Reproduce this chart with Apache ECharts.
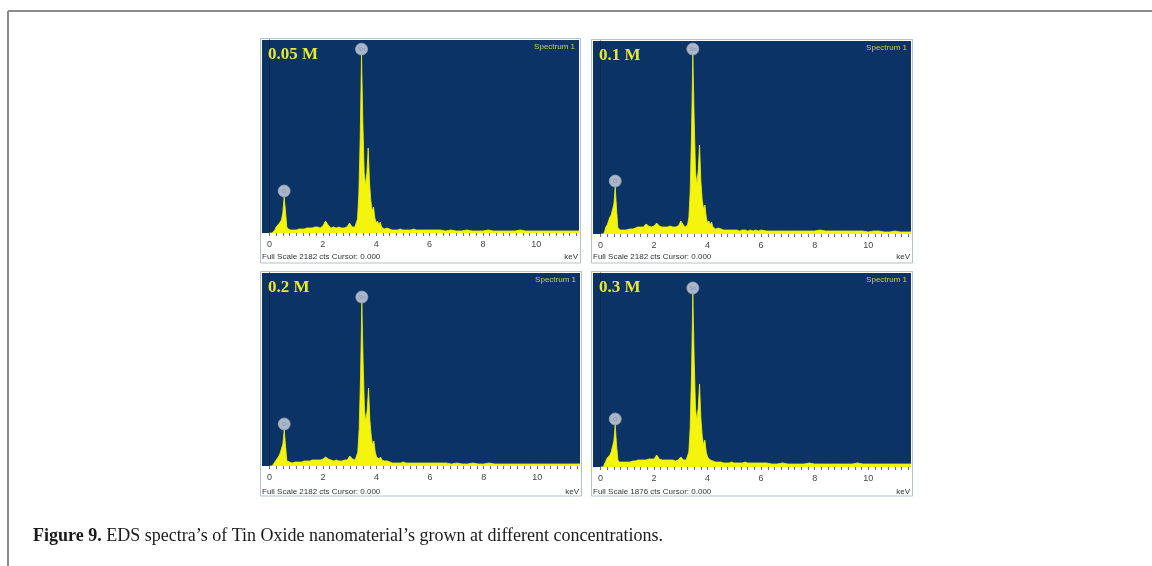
<!DOCTYPE html>
<html>
<head>
<meta charset="utf-8">
<title>EDS spectra of tin oxide</title>
<script src="https://cdn.jsdelivr.net/npm/echarts@6/dist/echarts.min.js"></script>
<style>
  html, body { margin: 0; padding: 0; background: #ffffff; }
  #chart { width: 1152px; height: 566px; }
</style>
</head>
<body>
<div id="chart"></div>
<script>
// Energy channels (keV) shared by all four spectra
const energy = [
  0.00,0.05,0.10,0.15,0.20,0.25,0.30,0.35,0.40,0.45,0.50,0.55,0.60,0.65,0.70,0.75,0.80,0.85,0.90,0.95,1.00,
  1.1,1.2,1.3,1.4,1.5,1.6,1.7,1.8,1.9,2.0,2.1,2.2,2.3,2.4,2.5,2.6,2.7,2.8,2.9,
  2.95,3.00,3.05,3.10,3.15,3.20,3.25,3.30,3.35,3.40,3.45,3.50,3.55,3.60,3.65,3.70,3.75,3.80,3.85,3.90,3.95,
  4.00,4.05,4.10,4.15,4.20,4.25,4.30,4.35,4.40,4.45,4.50,4.55,4.60,
  4.7,4.8,4.9,5.0,5.1,5.2,5.3,5.4,5.5,5.6,5.7,5.8,5.9,6.0,
  6.2,6.4,6.6,6.8,7.0,7.2,7.4,7.6,7.8,8.0,8.2,8.4,8.6,8.8,9.0,9.2,9.4,9.6,9.8,10.0,10.2,10.4,10.6,10.8,11.0,11.2,11.4,11.6
];

// Counts per channel for each precursor concentration
const counts005M = [
  0,0,0,0,34,68,90,102,113,147,226,407,249,68,45,34,34,34,34,45,34,
  45,45,45,57,57,57,68,68,57,79,136,90,57,68,57,68,57,57,68,
  79,113,124,68,57,68,79,158,452,1074,2011,1243,678,542,678,961,565,362,249,294,170,
  113,136,90,124,68,57,45,45,57,68,45,34,34,
  34,34,45,34,34,34,34,45,34,34,34,34,34,34,
  34,34,23,34,23,23,34,23,23,23,34,23,23,23,23,23,34,23,23,23,23,23,23,23,23,23,23,23
];
const counts01M = [
  0,0,0,23,79,102,147,192,215,226,339,531,283,68,57,45,45,45,45,45,57,
  57,57,68,79,79,79,113,90,79,90,124,90,79,79,79,90,79,79,90,
  113,147,158,102,79,90,102,181,475,1130,2023,1300,701,565,712,1006,599,384,283,328,192,
  124,147,102,136,79,68,57,57,68,68,57,45,45,
  45,45,45,45,45,34,45,45,34,45,34,45,34,45,
  34,34,34,34,34,34,34,34,34,34,45,34,34,34,34,34,34,34,34,23,34,34,23,23,34,23,23,23
];
const counts02M = [
  0,0,0,11,45,68,90,113,147,158,249,407,226,57,45,45,34,34,45,45,45,
  45,45,57,57,57,68,68,68,68,79,102,79,68,57,68,57,57,68,68,
  90,113,124,79,68,68,90,158,418,994,1842,1153,622,509,633,881,520,339,237,283,158,
  102,124,79,102,68,57,57,45,57,68,45,34,34,
  34,34,34,45,34,34,34,34,34,34,34,34,34,34,
  34,34,34,23,34,23,23,34,23,23,34,23,23,23,23,23,23,23,23,23,23,23,23,23,23,23,23,23
];
const counts03M = [
  0,0,0,19,58,87,97,116,145,164,251,406,213,68,48,48,48,48,48,48,48,
  48,58,58,68,68,68,68,77,77,77,116,77,68,68,68,68,68,58,68,
  87,97,106,68,58,68,77,145,377,899,1673,1044,561,454,571,803,474,300,213,261,145,
  97,116,68,87,58,48,48,48,48,58,48,39,39,
  39,39,48,39,39,39,39,48,39,39,39,39,39,39,
  39,29,29,39,29,29,29,29,39,29,29,29,29,29,29,29,29,39,29,29,29,29,29,29,29,29,29,29
];

const spectra = [counts005M, counts01M, counts02M, counts03M];
const panelTitles = ['0.05 M', '0.1 M', '0.2 M', '0.3 M'];
const fullScaleCts = [2182, 2182, 2182, 1876];

// Identified emission lines
const lineNames = ['O', 'Sn'];
const lineEnergies = [0.55, 3.45];

const energyTickLabels = [0, 2, 4, 6, 8, 10];

// Panel placement in the 1152x566 canvas
const panels = [
  { left: 262, top: 40,  width: 317, height: 193, boxBottom: 263, footY: 257 },
  { left: 593, top: 41,  width: 318, height: 193, boxBottom: 263, footY: 257 },
  { left: 262, top: 273, width: 318, height: 193, boxBottom: 496, footY: 492 },
  { left: 593, top: 273, width: 318, height: 194, boxBottom: 496, footY: 492 }
];

const PLOT_BG = '#0b3366';
const SPECTRUM = '#f4f40c';
const X_MIN = -0.28, X_MAX = 11.6;

// minor tick marks every 0.25 keV along the energy scale
const minorTicks = [];
for (let k = 0; k <= 46; k++) minorTicks.push(+(k * 0.25).toFixed(2));

const grids = [], xAxes = [], yAxes = [], series = [], graphics = [];

panels.forEach((p, i) => {
  grids.push({
    left: p.left, top: p.top, width: p.width, height: p.height,
    show: true, backgroundColor: PLOT_BG, borderWidth: 0, containLabel: false
  });
  xAxes.push({
    type: 'value', gridIndex: i, min: X_MIN, max: X_MAX,
    axisLine: { show: false },
    splitLine: { show: false },
    axisTick: { show: true, customValues: minorTicks, length: 3, inside: false,
                lineStyle: { color: '#6a6e74', width: 1 } },
    axisLabel: { show: true, customValues: energyTickLabels, fontSize: 9, margin: 7,
                 color: '#444', fontFamily: 'Liberation Sans' }
  });
  yAxes.push({
    type: 'value', gridIndex: i, min: 0, max: fullScaleCts[i],
    axisLine: { show: true, onZero: true, lineStyle: { color: '#07284f', width: 1 } },
    axisTick: { show: false }, axisLabel: { show: false }, splitLine: { show: false }
  });

  const counts = spectra[i];
  series.push({
    type: 'line', xAxisIndex: i, yAxisIndex: i,
    data: energy.map((e, k) => [e, counts[k]]),
    showSymbol: false, smooth: false, silent: true,
    lineStyle: { color: SPECTRUM, width: 0.8 },
    areaStyle: { color: SPECTRUM, opacity: 1 },
    z: 2
  });

  // line markers sit on top of their peaks
  series.push({
    type: 'scatter', xAxisIndex: i, yAxisIndex: i,
    data: lineNames.map((n, j) => {
      const k = energy.indexOf(lineEnergies[j]);
      return { name: n, value: [lineEnergies[j], counts[k]] };
    }),
    symbol: 'circle', symbolSize: 12, symbolOffset: [0, -6],
    itemStyle: { color: '#d3d8e2', borderColor: '#98a4ba', borderWidth: 1 },
    label: { show: true, position: 'inside', formatter: '{b}', fontSize: 6,
             color: '#7c889e', fontFamily: 'Liberation Sans' },
    silent: true, z: 5
  });

  // panel frame
  graphics.push({
    type: 'rect', silent: true, z: 1,
    shape: { x: p.left - 1.5, y: p.top - 1.5, width: p.width + 3, height: p.boxBottom - p.top + 1.5 },
    style: { fill: null, stroke: '#b3c0d3', lineWidth: 1 }
  });
  // concentration label
  graphics.push({
    type: 'text', silent: true, z: 10,
    x: p.left + 6, y: p.top + 15,
    style: { text: panelTitles[i], fill: '#e8e832', fontFamily: 'Liberation Serif',
             fontWeight: 'bold', fontSize: 17, verticalAlign: 'middle', align: 'left' }
  });
  graphics.push({
    type: 'text', silent: true, z: 10,
    x: p.left + p.width - 4, y: p.top + 7,
    style: { text: 'Spectrum 1', fill: '#c8d43c', fontFamily: 'Liberation Sans',
             fontSize: 8, verticalAlign: 'middle', align: 'right' }
  });
  graphics.push({
    type: 'text', silent: true, z: 10,
    x: p.left, y: p.footY,
    style: { text: 'Full Scale ' + fullScaleCts[i] + ' cts Cursor: 0.000', fill: '#333',
             fontFamily: 'Liberation Sans', fontSize: 8, verticalAlign: 'middle', align: 'left' }
  });
  graphics.push({
    type: 'text', silent: true, z: 10,
    x: p.left + p.width - 1, y: p.footY,
    style: { text: 'keV', fill: '#333', fontFamily: 'Liberation Sans', fontSize: 8,
             verticalAlign: 'middle', align: 'right' }
  });
});

// page frame
graphics.push({ type: 'line', silent: true, shape: { x1: 8, y1: 11, x2: 1152, y2: 11 },
                style: { stroke: '#8c8c8c', lineWidth: 2 } });
graphics.push({ type: 'line', silent: true, shape: { x1: 8, y1: 11, x2: 8, y2: 566 },
                style: { stroke: '#8c8c8c', lineWidth: 2 } });

// caption
graphics.push({
  type: 'text', silent: true, x: 33, y: 536,
  style: {
    text: '{b|Figure 9.} EDS spectra’s of Tin Oxide nanomaterial’s grown at different concentrations.',
    fill: '#1a1a1a', fontFamily: 'Liberation Serif', fontSize: 18, verticalAlign: 'middle',
    rich: { b: { fontWeight: 'bold', fontFamily: 'Liberation Serif', fontSize: 18, fill: '#1a1a1a' } }
  }
});

const chart = echarts.init(document.getElementById('chart'), null, { renderer: 'canvas' });
chart.setOption({
  animation: false,
  backgroundColor: '#ffffff',
  grid: grids,
  xAxis: xAxes,
  yAxis: yAxes,
  series: series,
  graphic: graphics
});
</script>
</body>
</html>
